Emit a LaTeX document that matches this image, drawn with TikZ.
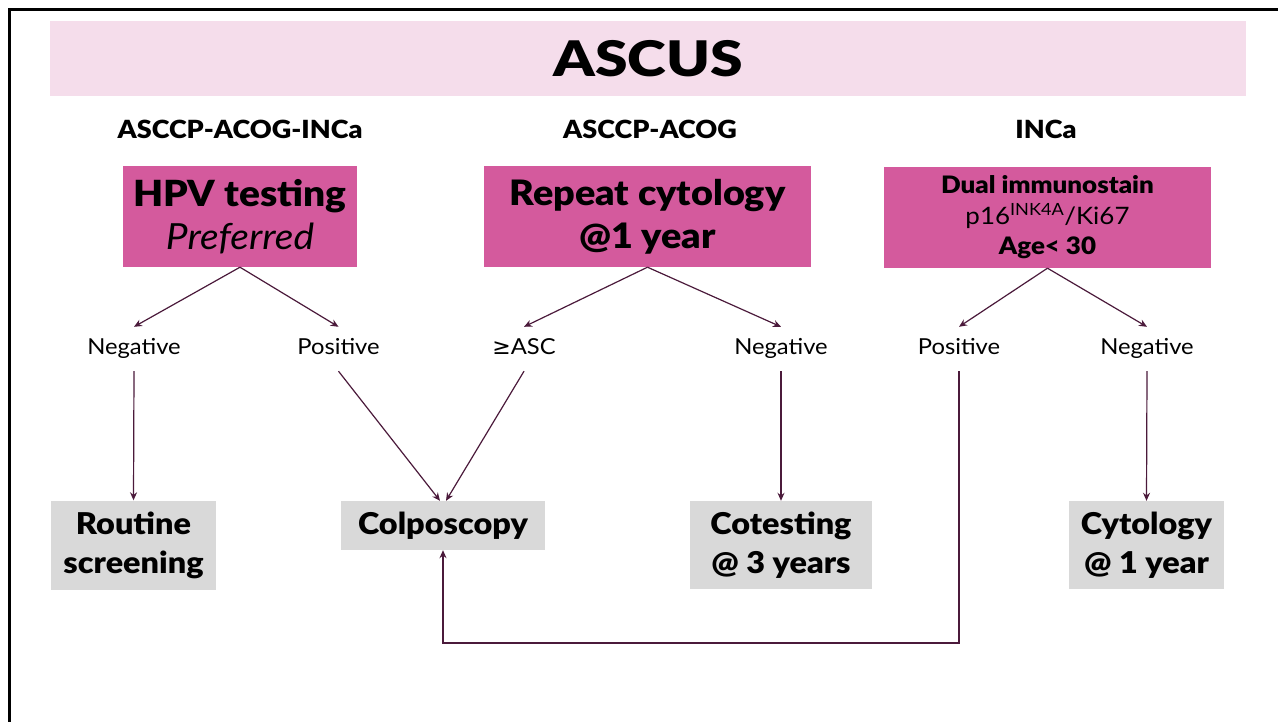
\documentclass[tikz,border=0pt]{standalone}
\usepackage{fontspec}
\setmainfont{Lato}[FakeStretch=1.08, BoldFont={Lato Black}]
\newfontfamily\tfont{Lato}[FakeStretch=1.2, BoldFont={Lato Black}]
\newfontfamily\symfont{DejaVu Sans}
\usetikzlibrary{arrows.meta}
\definecolor{band}{HTML}{F5DDEB}
\definecolor{mag}{HTML}{D45A9D}
\definecolor{gry}{HTML}{D9D9D9}
\definecolor{arr}{HTML}{4B1A3B}
\begin{document}
\begin{tikzpicture}[x=1pt,y=-1pt,
  conn/.style={draw=arr, line width=1.2pt, -{Stealth[length=8pt,width=7pt]}},
  magbox/.style={fill=mag, inner sep=0pt, align=center, text=black},
  grybox/.style={fill=gry, inner sep=0pt, align=center, text=black,
    font=\bfseries\fontsize{30}{39}\selectfont},
  lbl/.style={inner sep=0pt, minimum height=44pt, text height=16pt, text depth=5pt,
    font=\fontsize{22}{26}\selectfont},
  hdr/.style={inner sep=0pt, anchor=base, font=\bfseries\fontsize{25}{28}\selectfont}]
\useasboundingbox (0,0) rectangle (1278,722);
\fill[white] (0,0) rectangle (1278,722);
\draw[line width=2.5pt] (9.5,722) -- (9.5,9.5) -- (1278,9.5);

% title band
\node[fill=band, minimum width=1196pt, minimum height=75pt, inner sep=0pt,
  font=\tfont\bfseries\fontsize{49}{60}\selectfont] (title) at (648,58.5) {ASCUS};

% headers
\node[hdr] (h1) at (240,139) {ASCCP-ACOG-INCa};
\node[hdr] (h2) at (650,139) {ASCCP-ACOG};
\node[hdr] (h3) at (1046,139) {INCa};

% top boxes
\node[magbox, minimum width=234pt, minimum height=101pt,
  font=\fontsize{36}{43}\selectfont] (hpv) at (240,216.5)
  {\textbf{HPV testing}\\\textit{Preferred}};
\node[magbox, minimum width=327pt, minimum height=101pt,
  font=\bfseries\fontsize{35}{43}\selectfont] (rep) at (647.5,216.5)
  {Repeat cytology\\@1 year};
\node[magbox, minimum width=327pt, minimum height=101pt,
  font=\fontsize{24}{30.5}\selectfont] (dual) at (1047.5,217.5)
  {\textbf{Dual immunostain}\\p16\textsuperscript{INK4A}/Ki67\\\textbf{Age< 30}};

% labels
\node[lbl] (neg1) at (134,349) {Negative};
\node[lbl] (pos1) at (338.5,349) {Positive};
\node[lbl] (ge) at (524,349) {{\symfont ≥}ASC};
\node[lbl] (neg2) at (781,349) {Negative};
\node[lbl] (pos2) at (959,349) {Positive};
\node[lbl] (neg3) at (1147,349) {Negative};

% bottom boxes
\node[grybox, minimum width=165pt, minimum height=89pt] (rout) at (133.5,545) {Routine\\screening};
\node[grybox, minimum width=204pt, minimum height=49pt] (colp) at (443,525.5) {Colposcopy};
\node[grybox, minimum width=182pt, minimum height=88pt] (cot) at (781,545) {Cotesting\\@ 3 years};
\node[grybox, minimum width=155pt, minimum height=88pt] (cyt) at (1146.5,545) {Cytology\\@ 1 year};

\coordinate (low) at (0,643);

% connectors
\draw[conn] (hpv.south) -- (neg1.north);
\draw[conn] (hpv.south) -- (pos1.north);
\draw[conn] (rep.south) -- (ge.north);
\draw[conn] (rep.south) -- (neg2.north);
\draw[conn] (dual.south) -- (pos2.north);
\draw[conn] (dual.south) -- (neg3.north);

\draw[conn] (neg1.south) -- (rout.north);
\draw[conn] (pos1.south) -- ([xshift=-3pt]colp.north);
\draw[conn] (ge.south) -- ([xshift=3pt]colp.north);
\draw[conn] (neg2.south) -- (cot.north);
\draw[conn] (neg3.south) -- (cyt.north);
\draw[conn] (pos2.south) |- (colp.south |- low) -- (colp.south);
\end{tikzpicture}
\end{document}
